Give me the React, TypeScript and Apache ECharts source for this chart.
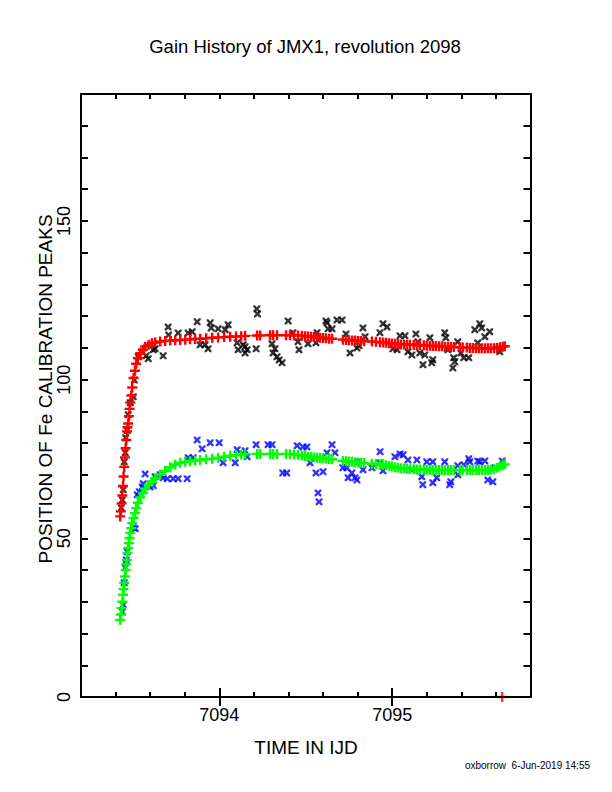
import React, { useEffect, useRef } from 'react';
import * as echarts from 'echarts';

// Fitted gain curves: one time grid shared by both peaks
const fitTimes = [
  7093.427, 7093.431, 7093.435, 7093.439, 7093.443, 7093.446, 7093.45, 7093.454, 7093.458, 7093.462,
  7093.466, 7093.469, 7093.473, 7093.477, 7093.481, 7093.485, 7093.491, 7093.496, 7093.504, 7093.512,
  7093.519, 7093.529, 7093.543, 7093.558, 7093.571, 7093.591, 7093.61, 7093.629, 7093.658, 7093.687,
  7093.716, 7093.745, 7093.774, 7093.803, 7093.831, 7093.86, 7093.889, 7093.924, 7093.959, 7093.993,
  7094.028, 7094.063, 7094.097, 7094.126, 7094.149, 7094.219, 7094.236, 7094.294, 7094.311, 7094.334,
  7094.386, 7094.409, 7094.432, 7094.455, 7094.478, 7094.496, 7094.513, 7094.531, 7094.548, 7094.565,
  7094.583, 7094.6, 7094.617, 7094.635, 7094.652, 7094.715, 7094.733, 7094.75, 7094.768, 7094.785,
  7094.802, 7094.819, 7094.837, 7094.883, 7094.906, 7094.929, 7094.947, 7094.964, 7094.981, 7094.998,
  7095.016, 7095.033, 7095.05, 7095.068, 7095.085, 7095.102, 7095.125, 7095.143, 7095.16, 7095.183,
  7095.2, 7095.218, 7095.235, 7095.252, 7095.27, 7095.287, 7095.304, 7095.322, 7095.339, 7095.356,
  7095.391, 7095.408, 7095.432, 7095.449, 7095.466, 7095.484, 7095.501, 7095.518, 7095.536, 7095.553,
  7095.57, 7095.588, 7095.605, 7095.622, 7095.639, 7095.651,
];

// upper peak fit (red)
const redFit = [
  56.9, 58.5, 61.0, 63.5, 66.5, 69.5, 72.5, 75.5, 78.4, 81.0,
  83.7, 85.0, 86.2, 88.5, 90.8, 92.8, 95.0, 97.5, 100.5, 102.8,
  105.0, 106.8, 108.3, 109.4, 110.4, 111.0, 111.5, 111.7, 112.0, 112.2,
  112.3, 112.4, 112.5, 112.6, 112.7, 112.8, 112.9, 113.0, 113.2, 113.3,
  113.4, 113.5, 113.6, 113.7, 113.8, 113.9, 113.9, 114.0, 114.0, 114.0,
  114.0, 114.0, 113.9, 113.9, 113.8, 113.7, 113.6, 113.5, 113.4, 113.3,
  113.2, 113.1, 113.0, 112.9, 112.9, 112.6, 112.5, 112.4, 112.3, 112.3,
  112.2, 112.2, 112.1, 112.0, 111.9, 111.8, 111.7, 111.6, 111.5, 111.4,
  111.3, 111.2, 111.1, 111.1, 111.0, 111.0, 110.9, 110.9, 110.8, 110.8,
  110.7, 110.7, 110.6, 110.6, 110.5, 110.5, 110.4, 110.4, 110.3, 110.3,
  110.2, 110.1, 110.1, 110.0, 110.0, 110.0, 109.9, 109.9, 109.9, 109.9,
  109.9, 109.9, 110.0, 110.2, 110.4, 110.5,
];

// lower peak fit (green)
const greenFit = [
  24.3, 26.0, 28.0, 30.0, 32.2, 34.0, 35.9, 38.0, 40.0, 41.8,
  43.2, 45.4, 47.0, 48.5, 50.1, 51.7, 53.2, 54.8, 56.4, 58.0,
  59.5, 61.2, 62.9, 64.3, 65.6, 66.8, 67.9, 68.9, 70.1, 71.2,
  72.4, 73.2, 73.8, 74.1, 74.3, 74.5, 74.7, 74.9, 75.1, 75.4,
  75.7, 76.0, 76.2, 76.4, 76.5, 76.6, 76.6, 76.6, 76.6, 76.6,
  76.6, 76.5, 76.4, 76.3, 76.1, 75.9, 75.7, 75.6, 75.5, 75.4,
  75.3, 75.2, 75.1, 75.0, 74.9, 74.4, 74.3, 74.2, 74.1, 74.0,
  73.9, 73.8, 73.7, 73.5, 73.4, 73.3, 73.2, 73.0, 72.8, 72.6,
  72.4, 72.2, 72.1, 72.0, 71.9, 71.8, 71.8, 71.7, 71.7, 71.6,
  71.6, 71.6, 71.5, 71.5, 71.5, 71.5, 71.5, 71.5, 71.5, 71.5,
  71.5, 71.5, 71.5, 71.5, 71.5, 71.5, 71.5, 71.5, 71.5, 71.5,
  71.6, 71.8, 72.2, 72.6, 73.0, 73.3,
];

// stray fit point sitting on the time axis
const redStray: [number, number][] = [[7095.636, 0]];

// measured upper peak positions (black)
const blackPoints: [number, number][] = [
  [7093.433, 59.6], [7093.439, 62.1], [7093.444, 65.3], [7093.45, 74.1], [7093.456, 77.0],
  [7093.459, 81.7], [7093.467, 84.0], [7093.473, 88.9], [7093.485, 92.7], [7093.502, 94.6],
  [7093.508, 99.9], [7093.531, 107.2], [7093.577, 107.5], [7093.589, 106.6], [7093.618, 109.4],
  [7093.629, 109.7], [7093.675, 107.5], [7093.704, 116.6], [7093.707, 114.1], [7093.762, 114.7],
  [7093.82, 114.7], [7093.843, 115.1], [7093.872, 118.2], [7093.889, 111.0], [7093.918, 111.0],
  [7093.935, 109.7], [7093.947, 117.9], [7093.953, 116.3], [7093.993, 116.0], [7094.034, 115.7],
  [7094.051, 117.3], [7094.103, 111.6], [7094.109, 109.4], [7094.138, 111.0], [7094.149, 110.4],
  [7094.149, 108.4], [7094.161, 109.4], [7094.213, 109.7], [7094.217, 122.3], [7094.221, 120.7],
  [7094.305, 111.3], [7094.311, 108.4], [7094.322, 109.7], [7094.334, 107.2], [7094.346, 106.2],
  [7094.363, 105.3], [7094.398, 118.5], [7094.426, 114.8], [7094.455, 111.9], [7094.461, 109.4],
  [7094.513, 111.3], [7094.559, 111.6], [7094.565, 114.8], [7094.617, 118.5], [7094.623, 117.9],
  [7094.629, 116.0], [7094.652, 116.0], [7094.681, 118.8], [7094.71, 118.8], [7094.733, 114.4],
  [7094.756, 108.4], [7094.796, 110.0], [7094.808, 110.7], [7094.831, 116.3], [7094.843, 113.5],
  [7094.929, 114.8], [7094.947, 117.6], [7094.97, 116.6], [7095.004, 109.7], [7095.028, 109.4],
  [7095.045, 113.8], [7095.074, 113.8], [7095.091, 108.8], [7095.114, 107.8], [7095.137, 114.4],
  [7095.149, 111.9], [7095.16, 108.4], [7095.178, 104.7], [7095.189, 107.8], [7095.218, 113.2],
  [7095.229, 105.3], [7095.235, 106.3], [7095.304, 114.8], [7095.31, 113.2], [7095.322, 109.4],
  [7095.351, 103.7], [7095.356, 106.9], [7095.362, 105.6], [7095.379, 111.9], [7095.397, 108.4],
  [7095.414, 106.9], [7095.443, 106.9], [7095.478, 115.7], [7095.495, 111.6], [7095.507, 117.6],
  [7095.518, 116.3], [7095.536, 113.5], [7095.564, 115.1], [7095.622, 108.8],
];

// measured lower peak positions (blue)
const bluePoints: [number, number][] = [
  [7093.439, 26.9], [7093.444, 29.1], [7093.45, 36.0], [7093.456, 40.7], [7093.462, 43.2],
  [7093.467, 45.8], [7093.502, 53.3], [7093.514, 53.0], [7093.525, 63.7], [7093.537, 64.7],
  [7093.554, 66.2], [7093.56, 67.2], [7093.571, 70.3], [7093.6, 66.2], [7093.618, 66.6],
  [7093.629, 69.4], [7093.658, 70.0], [7093.675, 69.1], [7093.699, 68.8], [7093.733, 68.8],
  [7093.762, 68.8], [7093.814, 68.8], [7093.82, 75.4], [7093.849, 75.4], [7093.872, 81.0],
  [7093.901, 78.2], [7093.947, 80.1], [7093.999, 80.1], [7094.022, 73.8], [7094.092, 73.8],
  [7094.103, 77.9], [7094.149, 77.6], [7094.161, 75.7], [7094.213, 79.5], [7094.282, 79.5],
  [7094.305, 79.5], [7094.367, 70.6], [7094.39, 70.6], [7094.45, 79.2], [7094.484, 78.8],
  [7094.507, 78.8], [7094.525, 73.8], [7094.559, 70.6], [7094.571, 64.3], [7094.577, 61.5],
  [7094.6, 71.0], [7094.623, 77.0], [7094.652, 79.5], [7094.669, 77.0], [7094.715, 72.2],
  [7094.738, 72.2], [7094.745, 69.1], [7094.767, 70.6], [7094.785, 69.1], [7094.796, 68.4],
  [7094.802, 74.1], [7094.831, 71.6], [7094.883, 72.2], [7094.929, 73.8], [7094.93, 77.3],
  [7094.947, 71.3], [7095.016, 75.7], [7095.045, 76.6], [7095.063, 76.3], [7095.091, 74.7],
  [7095.114, 71.6], [7095.143, 74.7], [7095.171, 69.4], [7095.177, 66.9], [7095.2, 74.1],
  [7095.235, 74.1], [7095.235, 67.5], [7095.258, 69.1], [7095.304, 74.1], [7095.333, 66.9],
  [7095.339, 67.8], [7095.379, 72.9], [7095.38, 70.0], [7095.414, 73.2], [7095.443, 75.1],
  [7095.449, 74.1], [7095.495, 74.4], [7095.507, 74.1], [7095.536, 74.4], [7095.553, 68.4],
  [7095.582, 67.8], [7095.594, 72.2], [7095.636, 74.4],
];

const xMajorTicks = [7094, 7095];

const FONT = '"Liberation Sans", Arial, Helvetica, sans-serif';
// filled plus and diagonal cross, drawn like the plotter's bitmap markers
const CROSS = 'path://M3.8,0H6.2V3.8H10V6.2H6.2V10H3.8V6.2H0V3.8H3.8Z';
const XMARK = 'path://M0,0H2.4L5,2.6L7.6,0H10V2.4L7.4,5L10,7.6V10H7.6L5,7.4L2.4,10H0V7.6L2.6,5L0,2.4Z';

const X_MIN = 7093.2;
const X_MAX = 7095.8;

function buildOption(): echarts.EChartsCoreOption {
  const black = '#000000';
  const axisLine = { show: true, onZero: false, lineStyle: { color: black, width: 2 } };

  const minorX = (position: 'bottom' | 'top', labels: boolean) => ({
    type: 'value',
    position,
    min: X_MIN,
    max: X_MAX,
    interval: 0.2,
    axisLine,
    axisTick: { show: true, inside: true, length: 5, lineStyle: { color: black, width: 2 } },
    splitLine: { show: false },
    axisLabel: {
      show: labels,
      color: black,
      fontSize: 18,
      fontFamily: FONT,
      margin: 9,
      formatter: (v: number) => (Math.abs(v - Math.round(v)) < 1e-6 ? String(Math.round(v)) : ''),
    },
  });

  const majorX = (position: 'bottom' | 'top') => ({
    type: 'value',
    position,
    min: X_MIN,
    max: X_MAX,
    axisLine: { show: false },
    axisTick: {
      show: true,
      inside: true,
      length: 9,
      customValues: xMajorTicks,
      lineStyle: { color: black, width: 2 },
    },
    splitLine: { show: false },
    axisLabel: { show: false },
  });

  const yAx = (position: 'left' | 'right', labels: boolean) => ({
    type: 'value',
    position,
    min: 0,
    max: 190,
    interval: 10,
    axisLine,
    axisTick: { show: true, inside: true, length: 7, lineStyle: { color: black, width: 2 } },
    splitLine: { show: false },
    axisLabel: {
      show: labels,
      rotate: 90,
      color: black,
      fontSize: 18,
      fontFamily: FONT,
      margin: 8,
      formatter: (v: number) => (v % 50 === 0 ? String(v) : ''),
    },
  });

  const fitLine = (name: string, values: number[], color: string) => ({
    name,
    type: 'line',
    data: fitTimes.map((t, i) => [t, values[i]]),
    symbol: CROSS,
    symbolSize: 10,
    showAllSymbol: true,
    itemStyle: { color },
    lineStyle: { color, width: 1 },
    z: 4,
  });

  const dataScatter = (name: string, pts: [number, number][], color: string) => ({
    name,
    type: 'scatter',
    data: pts,
    symbol: XMARK,
    symbolSize: 7,
    itemStyle: { color },
    z: 3,
  });

  return {
    animation: false,
    backgroundColor: '#ffffff',
    grid: { left: 81, right: 81.5, top: 94, bottom: 95, containLabel: false },
    xAxis: [minorX('bottom', true), majorX('bottom'), minorX('top', false), majorX('top')],
    yAxis: [yAx('left', true), yAx('right', false)],
    series: [
      dataScatter('upper data', blackPoints, '#000000'),
      dataScatter('lower data', bluePoints, '#0000ff'),
      fitLine('upper fit', redFit, '#ff0000'),
      fitLine('lower fit', greenFit, '#00ff00'),
      {
        name: 'stray',
        type: 'scatter',
        data: redStray,
        symbol: CROSS,
        symbolSize: 10,
        clip: false,
        itemStyle: { color: '#ff0000' },
        z: -1,
      },
    ],
    graphic: [
      {
        type: 'text',
        x: 305,
        y: 46,
        style: {
          text: 'Gain History of JMX1, revolution 2098',
          fontSize: 18.5,
          fontFamily: FONT,
          fill: black,
          align: 'center',
          verticalAlign: 'middle',
        },
      },
      {
        type: 'text',
        x: 306,
        y: 747,
        style: {
          text: 'TIME IN IJD',
          fontSize: 19,
          fontFamily: FONT,
          fill: black,
          align: 'center',
          verticalAlign: 'middle',
        },
      },
      {
        type: 'text',
        x: 45,
        y: 389,
        rotation: Math.PI / 2,
        style: {
          text: 'POSITION OF Fe CALIBRATION PEAKS',
          fontSize: 19,
          fontFamily: FONT,
          fill: black,
          align: 'center',
          verticalAlign: 'middle',
        },
      },
      {
        type: 'text',
        x: 590,
        y: 765,
        style: {
          text: 'oxborrow  6-Jun-2019 14:55',
          fontSize: 10,
          fontFamily: FONT,
          fill: black,
          align: 'right',
          verticalAlign: 'middle',
        },
      },
    ],
  };
}

export default function App() {
  const ref = useRef<HTMLDivElement>(null);

  useEffect(() => {
    if (!ref.current) return;
    const chart = echarts.init(ref.current, undefined, { renderer: 'svg' });
    chart.setOption(buildOption());
    return () => chart.dispose();
  }, []);

  return (
    <div
      ref={ref}
      style={{ position: 'absolute', left: 0, top: 0, width: 612, height: 792, background: '#fff' }}
    />
  );
}
